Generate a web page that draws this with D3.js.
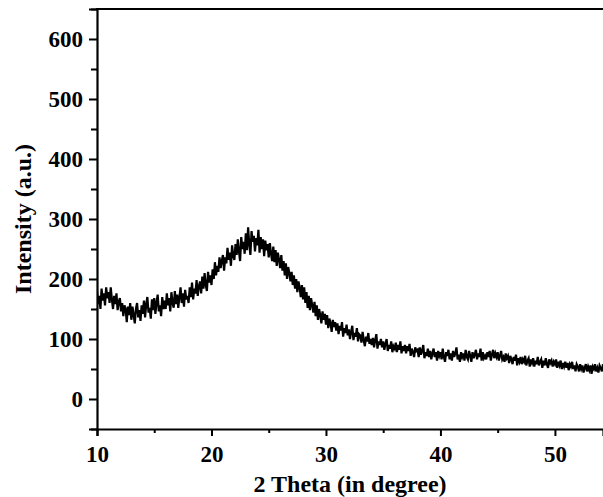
<!DOCTYPE html>
<html>
<head>
<meta charset="utf-8">
<script src="https://cdn.jsdelivr.net/npm/d3@7/dist/d3.min.js"></script>
<style>
  html, body { margin: 0; padding: 0; background: #fff; }
  svg { display: block; }
  text { font-family: "Liberation Serif", "Times New Roman", serif; font-weight: bold; fill: #000; }
</style>
</head>
<body>
<svg id="chart" width="603" height="497"></svg>
<script>
// 2-theta start and step (degrees) for the intensity series
const thetaStart = 10.0;
const thetaStep = 0.1;
// Intensity (a.u.), one row per degree (10.0 ... 54.2)
const intensity = [
  180,158,172,150,184,164,176,156,186,168,
  178,160,186,166,150,172,158,176,148,162,
  168,146,160,138,156,150,128,154,140,160,
  132,154,140,126,150,160,136,148,130,156,
  142,164,136,158,170,144,152,134,166,148,
  168,142,160,174,146,156,138,170,150,164,
  150,176,156,168,146,178,160,152,180,158,
  174,152,170,186,160,176,154,182,166,172,
  160,186,170,194,166,184,176,198,172,188,
  196,176,204,184,210,190,180,212,194,206,
  190,216,200,228,206,222,212,236,218,230,
  240,214,236,226,252,232,244,222,256,238,
  232,258,240,266,246,230,270,250,262,242,
  276,248,286,258,240,280,262,272,246,268,
  256,282,244,270,250,266,238,264,248,258,
  236,260,242,230,254,228,248,222,244,232,
  218,240,214,230,206,226,200,220,210,196,
  212,190,206,184,200,178,196,186,170,190,
  166,186,160,178,152,172,148,168,156,144,
  162,138,156,132,150,140,126,146,132,142,
  124,140,118,134,126,112,132,120,128,114,
  126,108,122,114,128,104,118,110,124,106,
  116,100,112,122,98,110,104,118,96,108,
  106,94,112,98,88,104,96,110,92,100,
  90,102,86,98,108,84,96,90,100,86,
  96,82,92,100,80,90,84,96,78,88,
  84,94,78,90,82,96,76,88,80,90,
  76,88,80,92,72,84,78,70,86,80,
  82,70,86,74,80,90,68,78,72,84,
  70,80,66,76,84,70,78,64,80,72,
  78,66,84,70,62,78,72,82,66,76,
  64,80,70,76,86,66,74,62,78,70,
  76,64,82,70,66,80,72,62,78,68,
  74,82,66,76,70,84,64,78,68,72,
  66,78,70,80,64,74,82,68,76,70,
  78,64,72,80,66,70,62,76,68,72,
  60,72,66,58,70,64,74,56,68,62,
  70,58,66,62,72,56,64,68,54,66,
  60,68,54,64,58,70,56,62,66,52,
  64,56,68,58,52,66,60,64,54,62,
  58,66,52,62,56,64,50,60,54,62,
  52,60,48,58,54,62,50,56,46,58,
  54,46,58,50,56,44,52,58,46,54,
  48,56,42,54,50,58,46,52,44,56,
  52,46,58
];
const xTicks = [10, 20, 30, 40, 50];
const xMinorTicks = [15, 25, 35, 45];
const yTicks = [0, 100, 200, 300, 400, 500, 600];
const yMinorTicks = [-50, 50, 150, 250, 350, 450, 550, 650];
const xDomain = [10, 54.2];
const yDomain = [-50, 650];
const xTitle = "2 Theta (in degree)";
const yTitle = "Intensity (a.u.)";

const data = intensity.map((v, i) => ({ t: thetaStart + i * thetaStep, v: v }));

const svg = d3.select("#chart");
const mLeft = 97, mRight = 603, mTop = 9, mBottom = 429;

const x = d3.scaleLinear().domain(xDomain).range([mLeft, mRight]);
const y = d3.scaleLinear().domain(yDomain).range([mBottom, mTop]);

svg.append("defs").append("clipPath").attr("id", "plotclip")
  .append("rect").attr("x", mLeft).attr("y", mTop).attr("width", mRight - mLeft).attr("height", mBottom - mTop);

// curve
const line = d3.line().x(d => x(d.t)).y(d => y(d.v));
svg.append("path")
  .datum(data)
  .attr("clip-path", "url(#plotclip)")
  .attr("fill", "none")
  .attr("stroke", "#000")
  .attr("stroke-width", 2.2)
  .attr("stroke-linejoin", "miter")
  .attr("d", line);

// bottom axis
const xAxis = svg.append("g").attr("transform", `translate(0,${mBottom})`)
  .call(d3.axisBottom(x).tickValues(xTicks).tickFormat(d3.format("d")).tickSize(7).tickPadding(10));
const xMinor = svg.append("g").attr("transform", `translate(0,${mBottom})`)
  .call(d3.axisBottom(x).tickValues(xMinorTicks).tickFormat("").tickSize(4));
// left axis
const yAxis = svg.append("g").attr("transform", `translate(${mLeft},0)`)
  .call(d3.axisLeft(y).tickValues(yTicks).tickFormat(d3.format("d")).tickSize(8).tickPadding(6));
const yMinor = svg.append("g").attr("transform", `translate(${mLeft},0)`)
  .call(d3.axisLeft(y).tickValues(yMinorTicks).tickFormat("").tickSize(6));

[xAxis, xMinor, yAxis, yMinor].forEach(g => {
  g.select(".domain").attr("stroke-width", 2.2).attr("stroke", "#000");
  g.selectAll(".tick line").attr("stroke-width", 2).attr("stroke", "#000");
  g.selectAll(".tick text").style("font-size", "23px").style("font-family", '"Liberation Serif", serif').style("font-weight", "bold");
});
xMinor.select(".domain").remove();
yMinor.select(".domain").remove();

// top frame line
svg.append("line")
  .attr("x1", x(xDomain[0]) - 1).attr("x2", mRight)
  .attr("y1", y(yDomain[1])).attr("y2", y(yDomain[1]))
  .attr("stroke", "#000").attr("stroke-width", 2.2);

// titles
svg.append("text")
  .attr("x", (mLeft + mRight) / 2).attr("y", 492)
  .attr("text-anchor", "middle")
  .style("font-size", "24px")
  .text(xTitle);
svg.append("text")
  .attr("transform", `translate(31,${(mTop + mBottom) / 2}) rotate(-90)`)
  .attr("text-anchor", "middle")
  .style("font-size", "24px")
  .text(yTitle);
</script>
</body>
</html>
